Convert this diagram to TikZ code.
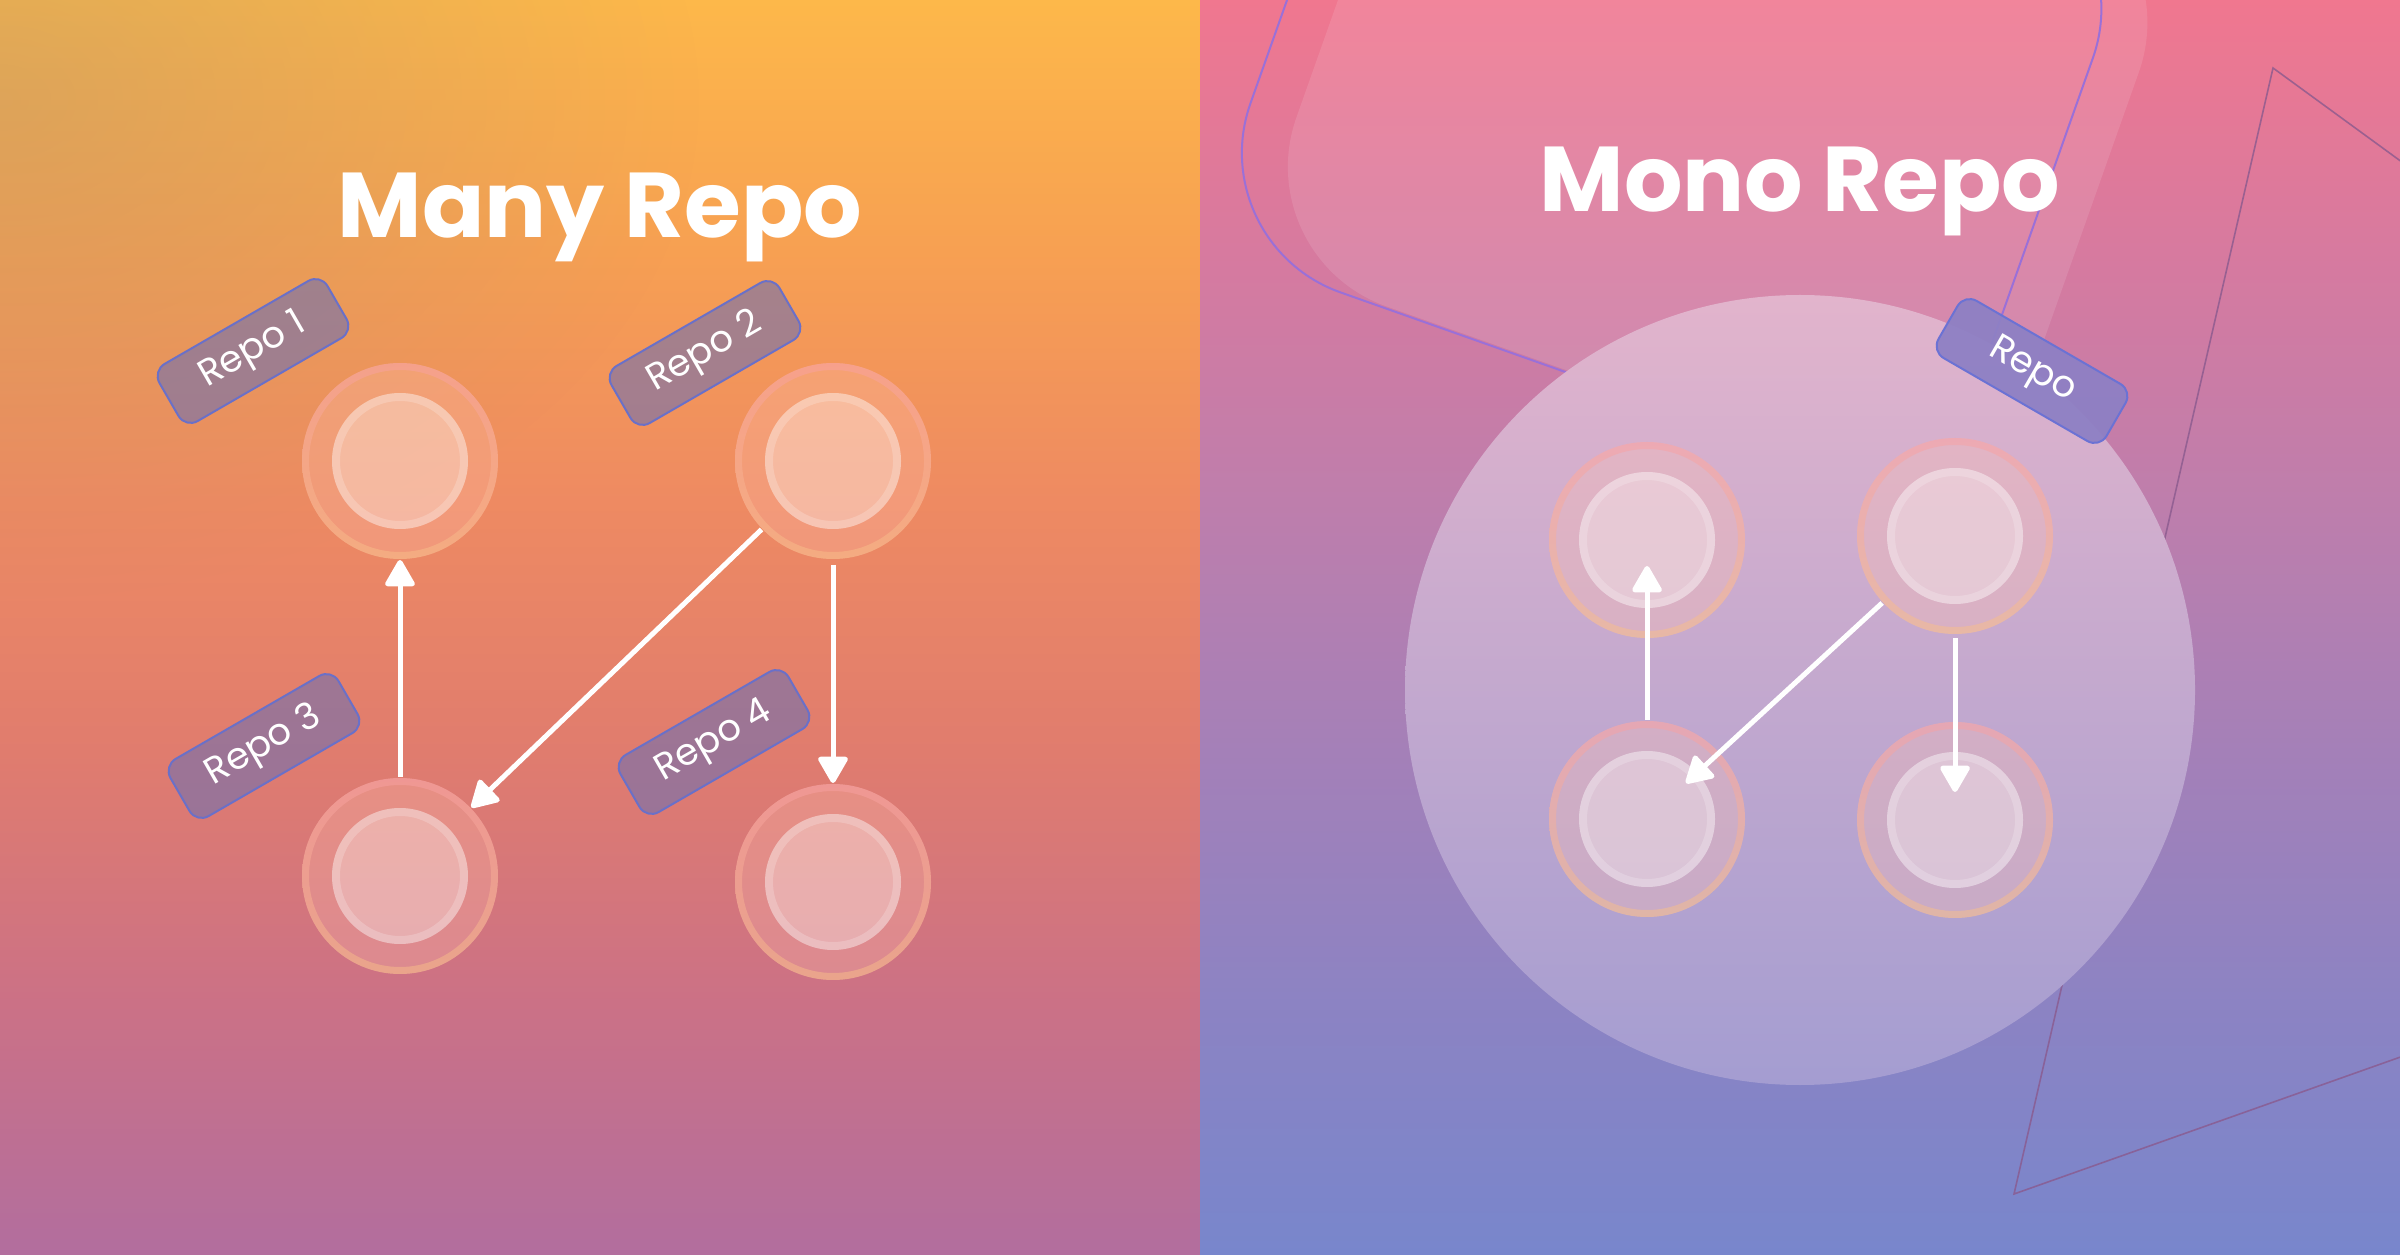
\documentclass[tikz,border=0pt]{standalone}
\usepackage{fontspec}
\setmainfont{Poppins}
\usetikzlibrary{arrows.meta,fadings}

\definecolor{lbA}{HTML}{FDB84A}
\definecolor{lbB}{HTML}{F7A052}
\definecolor{lbC}{HTML}{EE8A62}
\definecolor{lbD}{HTML}{E07C6E}
\definecolor{lbE}{HTML}{CB7186}
\definecolor{lbF}{HTML}{B26E9E}
\definecolor{rbA}{HTML}{F0778F}
\definecolor{rbB}{HTML}{D77A9F}
\definecolor{rbC}{HTML}{BE7EAC}
\definecolor{rbD}{HTML}{A480B8}
\definecolor{rbE}{HTML}{8C83C3}
\definecolor{rbF}{HTML}{7886CC}
\definecolor{muted}{HTML}{A89070}
\definecolor{outerfill}{HTML}{FFC0B0}
\definecolor{ringtop}{HTML}{F8A0A4}
\definecolor{ringbot}{HTML}{F8C088}
\definecolor{lblfill}{HTML}{7070B0}
\definecolor{lblborder}{HTML}{6A70C8}
\definecolor{monofill}{HTML}{8E80C4}
\definecolor{monoborder}{HTML}{6B72D4}
\definecolor{bigtop}{HTML}{E2B4CC}
\definecolor{bigmid}{HTML}{C6A5C9}
\definecolor{bigbot}{HTML}{A49DD1}
\definecolor{outlinecol}{HTML}{9A70D8}
\definecolor{tricol}{HTML}{8A5A8E}

\pgfdeclareverticalshading{leftbg}{100bp}{color(0bp)=(lbF); color(25bp)=(lbF); color(35bp)=(lbE); color(45bp)=(lbD); color(55bp)=(lbC); color(65bp)=(lbB); color(75bp)=(lbA); color(100bp)=(lbA)}
\pgfdeclareverticalshading{rightbg}{100bp}{color(0bp)=(rbF); color(25bp)=(rbF); color(35bp)=(rbE); color(45bp)=(rbD); color(55bp)=(rbC); color(65bp)=(rbB); color(75bp)=(rbA); color(100bp)=(rbA)}

\tikzfading[name=radfade, inner color=transparent!0, outer color=transparent!100]

\tikzset{
  arr/.style={draw=white, line width=5pt, -{Triangle[length=29pt,width=32pt,round]}},
  lbl/.style={draw=lblborder, line width=2pt, fill=lblfill, fill opacity=0.6, text opacity=1,
    rounded corners=14pt, minimum width=194pt, minimum height=66pt, inner sep=0pt,
    text=white, font=\fontsize{37}{40}\selectfont},
  monolbl/.style={lbl, draw=monoborder, fill=monofill, fill opacity=0.95},
  titletext/.style={text=white, font=\fontsize{92}{96}\selectfont\bfseries, inner sep=0pt},
  dotnode/.style={circle, minimum size=198pt, inner sep=0pt, outer sep=0pt},
  tri/.style={draw=tricol, line width=1.6pt, draw opacity=0.8},
}

\newcommand\repodot[2]{%
  \coordinate (#1) at (#2);
  \fill[fill=outerfill, fill opacity=0.3] (#1) circle (98pt);
  \shade[top color=ringtop, bottom color=ringbot, opacity=0.5, even odd rule] (#1) circle (98pt) (#1) circle (91pt);
  \fill[white, fill opacity=0.3] (#1) circle (68pt);
  \fill[white, fill opacity=0.2, even odd rule] (#1) circle (68pt) (#1) circle (60pt);
  \node[dotnode] (#1n) at (#1) {};
}

\begin{document}
\begin{tikzpicture}[x=1pt,y=1pt]
\useasboundingbox (0,0) rectangle (2400,1254);
% left panel background
\shade[shading=leftbg] (0,0) rectangle (1200,1254);
\begin{scope}
  \clip (0,0) rectangle (1200,1254);
  \fill[muted, opacity=0.35, path fading=radfade] (0,1154) ellipse [x radius=700pt, y radius=500pt];
\end{scope}
% right panel background
\shade[shading=rightbg] (1200,0) rectangle (2400,1254);
\begin{scope}
  \clip (1200,0) rectangle (2400,1254);
  \begin{scope}[shift={(1247,997)}, rotate=-19.5]
    \fill[white, fill opacity=0.11, rounded corners=148pt] (0,0) rectangle (779,620);
  \end{scope}
  \begin{scope}[shift={(1201,1011)}, rotate=-19.5]
    \draw[outlinecol, line width=2pt, rounded corners=148pt] (0,0) rectangle (779,620);
  \end{scope}
  \draw[tri] (2273,1186) -- (2014,60) -- (3227,490) -- cycle;
\end{scope}

% titles
\node[titletext, anchor=base] (t1) at (600,1016) {Many Repo};

% left repo circles
\repodot{c1}{400,793}
\repodot{c2}{833,793}
\repodot{c3}{400,378}
\repodot{c4}{833,372}

\draw[arr] (c3n) -- (c1n);
\draw[arr] (c2n) -- (c3n);
\draw[arr, shorten <=5pt] (c2n) -- (c4n);

\node[lbl, rotate=30] (l1) at (253,903) {Repo 1};
\node[lbl, rotate=30] (l2) at (705,901) {Repo 2};
\node[lbl, rotate=30] (l3) at (264,508) {Repo 3};
\node[lbl, rotate=30] (l4) at (714,512) {Repo 4};

% right big circle
\node[circle, minimum size=790pt, inner sep=0pt, top color=bigtop, middle color=bigmid, bottom color=bigbot] (mono) at (1800,564) {};

\repodot{m1}{1647,714}
\repodot{m2}{1955,718}
\repodot{m3}{1647,435}
\repodot{m4}{1955,434}

\draw[arr, shorten >=26pt] (m3n) -- (m1n.center);
\draw[arr, shorten >=53pt] (m2n) -- (m3n.center);
\draw[arr, shorten >=28pt, shorten <=3pt] (m2n) -- (m4n.center);

\node[monolbl, rotate=-30] (rl) at (2032,883) {Repo};

\node[titletext, anchor=base] (t2) at (1800,1042) {Mono Repo};
\end{tikzpicture}
\end{document}
